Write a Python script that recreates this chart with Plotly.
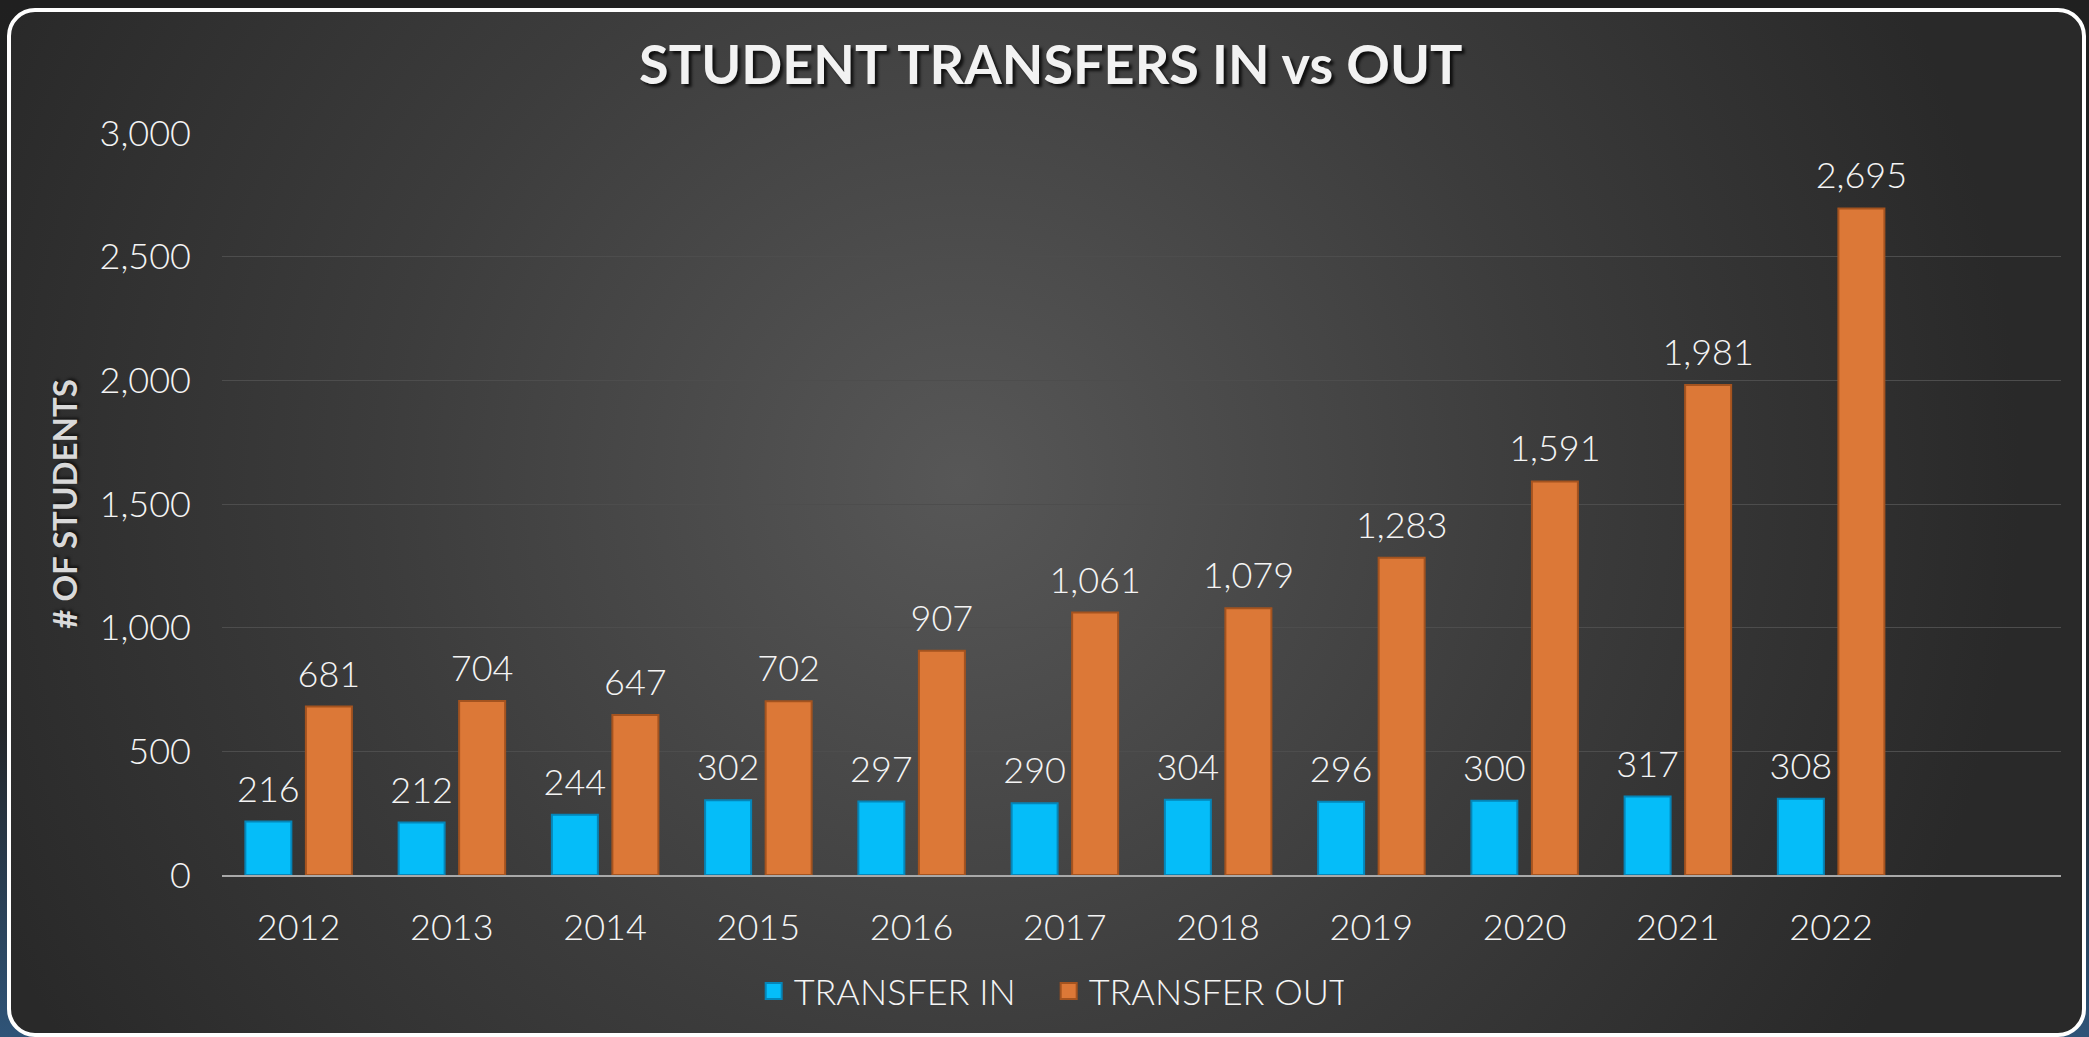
import base64
import plotly.graph_objects as go

# Yearly student transfer counts
years = ["2012", "2013", "2014", "2015", "2016", "2017", "2018", "2019", "2020", "2021", "2022"]
transfer_in = [216, 212, 244, 302, 297, 290, 304, 296, 300, 317, 308]
transfer_out = [681, 704, 647, 702, 907, 1061, 1079, 1283, 1591, 1981, 2695]
y_ticks = [0, 500, 1000, 1500, 2000, 2500, 3000]

W, H = 2089, 1037
M = dict(l=222, r=28, t=133, b=162)
PW = W - M["l"] - M["r"]
PH = H - M["t"] - M["b"]

BLUE = "#05bdf9"
BLUE_EDGE = "#0585b8"
ORANGE = "#dc7837"
ORANGE_EDGE = "#a4531f"
LABEL_FONT = dict(family="Lato", size=36, color="#f4f4f4", weight=300)

BARGAP = 0.21
GROUPGAP = 0.24
# centre of each bar relative to its year slot (two bars per group)
HALF = (1 - BARGAP) / 4
pos = list(range(len(years)))

# Card background: dark slide behind a rounded, white-edged panel with a soft radial glow
svg = f"""<svg xmlns='http://www.w3.org/2000/svg' width='{W}' height='{H}' viewBox='0 0 {W} {H}'>
<defs>
<linearGradient id='o' x1='0' y1='0' x2='0' y2='1'>
<stop offset='0' stop-color='#202020'/><stop offset='0.7' stop-color='#232629'/><stop offset='1' stop-color='#2f5478'/>
</linearGradient>
<radialGradient id='g' gradientUnits='userSpaceOnUse' cx='960' cy='480' r='1060'>
<stop offset='0' stop-color='#575757'/><stop offset='0.55' stop-color='#3c3c3c'/><stop offset='1' stop-color='#292929'/>
</radialGradient>
</defs>
<rect width='{W}' height='{H}' fill='url(#o)'/>
<rect x='9' y='10' width='{W - 14}' height='{H - 12}' rx='26' ry='26' fill='url(#g)' stroke='#ffffff' stroke-width='4'/>
</svg>"""
bg_uri = "data:image/svg+xml;base64," + base64.b64encode(svg.encode()).decode()

fig = go.Figure()
series = [
    ("TRANSFER IN", transfer_in, BLUE, BLUE_EDGE, -HALF),
    ("TRANSFER OUT", transfer_out, ORANGE, ORANGE_EDGE, HALF),
]
for name, vals, fill, edge, shift in series:
    fig.add_trace(go.Bar(
        name=name, x=pos, y=vals, showlegend=False, hoverinfo="skip",
        marker=dict(color=fill, line=dict(color=edge, width=2)),
    ))
for name, vals, fill, edge, shift in series:
    # value labels floating just above each bar
    fig.add_trace(go.Scatter(
        x=[p + shift for p in pos], y=vals, mode="text+markers",
        marker=dict(size=16, color="rgba(0,0,0,0)"),
        text=[f"{v:,}" for v in vals], textposition="top center",
        textfont=LABEL_FONT, showlegend=False, hoverinfo="skip", cliponaxis=False,
    ))
for name, vals, fill, edge, shift in series:
    # legend swatches
    fig.add_trace(go.Scatter(
        name=name, x=[None], y=[None], mode="markers",
        marker=dict(symbol="square", size=17, color=fill, line=dict(color=edge, width=2)),
    ))

fig.update_layout(
    width=W, height=H,
    margin=dict(**M, autoexpand=False),
    paper_bgcolor="#222222",
    plot_bgcolor="rgba(0,0,0,0)",
    barmode="group", bargap=BARGAP, bargroupgap=GROUPGAP,
    title=dict(
        text="<b>STUDENT TRANSFERS IN vs OUT</b>",
        x=0.503, xref="container", xanchor="center",
        y=1 - 65 / H, yref="container", yanchor="middle",
        font=dict(family="Lato", size=54, color="#f2f2f2", weight=800,
                  shadow="3px 3px 3px rgba(0,0,0,0.75)"),
    ),
    showlegend=True,
    legend=dict(
        orientation="h", xref="container", x=0.502, xanchor="center",
        yref="container", y=1 - 991 / H, yanchor="middle",
        font=dict(family="Lato", size=36, color="#f4f4f4", weight=300),
        bgcolor="rgba(0,0,0,0)", itemwidth=30, entrywidth=250,
    ),
    xaxis=dict(
        range=[-0.5, 11.5], tickvals=pos, ticktext=years,
        showgrid=False, zeroline=False, ticks="",
        showline=True, linecolor="#a9a9a9", linewidth=2,
        tickfont=LABEL_FONT, ticklabelstandoff=20, fixedrange=True,
    ),
    yaxis=dict(
        range=[0, 3000], tickvals=y_ticks, tickformat=",",
        showgrid=True, gridcolor="#4d4d4d", gridwidth=1,
        zeroline=False, showline=False, ticks="",
        tickfont=LABEL_FONT, ticklabelstandoff=30,
        title=dict(text="<b># OF STUDENTS</b>", standoff=12,
                   font=dict(family="Lato", size=33, color="#d9d9d9", weight=800,
                             shadow="2px 2px 3px rgba(0,0,0,0.6)")),
    ),
    images=[dict(
        source=bg_uri, xref="paper", yref="paper",
        x=-M["l"] / PW, y=1 + M["t"] / PH,
        sizex=W / PW, sizey=H / PH,
        xanchor="left", yanchor="top", sizing="stretch", layer="below",
    )],
)

fig.write_html("out.html")
